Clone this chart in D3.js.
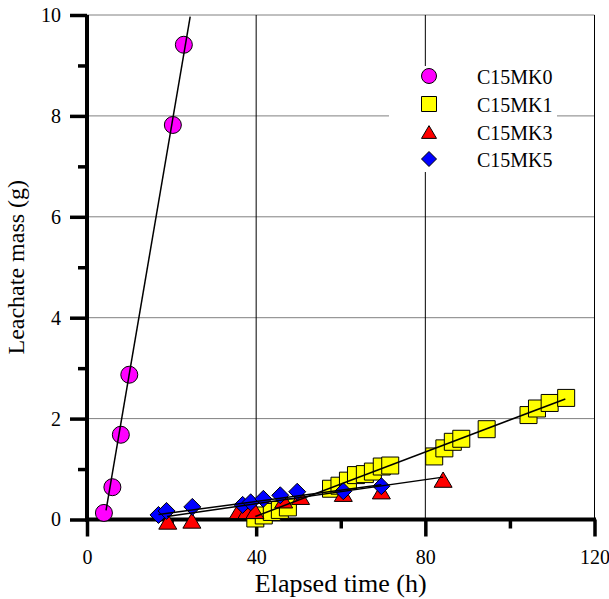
<!DOCTYPE html>
<html><head><meta charset="utf-8">
<script src="https://cdn.jsdelivr.net/npm/d3@7"></script>
<style>
body{margin:0;background:#fff;}
svg{display:block;}
</style>
</head><body>
<svg id="chart" width="609" height="599"></svg>
<script>
// ---- data ----
const xMajorTicks = [0, 40, 80, 120];
const xMinorTicks = [20, 60, 100];
const yMajorTicks = [0, 2, 4, 6, 8, 10];
const yMinorTicks = [1, 3, 5, 7, 9];
const seriesNames = ["C15MK0", "C15MK1", "C15MK3", "C15MK5"];

const mk0Time = [4.0, 6.0, 8.0, 10.0, 20.3, 22.9];
const mk0Mass = [0.13, 0.64, 1.68, 2.87, 7.82, 9.41];

const mk1Time = [39.8, 41.8, 43.7, 45.6, 47.5, 57.7, 59.7, 61.7, 63.6, 65.7, 67.6, 69.7, 71.7, 82.1, 84.5, 86.5, 88.5, 94.5, 104.4, 106.4, 109.4, 113.3];
const mk1Mass = [0.02, 0.08, 0.15, 0.19, 0.24, 0.61, 0.67, 0.77, 0.88, 0.90, 0.95, 1.05, 1.07, 1.25, 1.41, 1.54, 1.60, 1.79, 2.07, 2.20, 2.31, 2.41];

const mk3Time = [19.1, 24.8, 35.8, 37.8, 39.7, 46.5, 50.5, 60.6, 69.6, 84.2];
const mk3Mass = [-0.04, -0.02, 0.17, 0.17, 0.17, 0.38, 0.45, 0.51, 0.56, 0.79];

const mk5Time = [16.9, 18.8, 24.9, 36.8, 38.7, 41.7, 45.7, 49.7, 60.6, 69.6];
const mk5Mass = [0.09, 0.17, 0.25, 0.29, 0.34, 0.41, 0.48, 0.55, 0.56, 0.66];

// linear fit lines (endpoints)
const fit0 = [[4.5, 0.18], [24.4, 9.97]];
const fit1 = [[39.8, 0.06], [113.1, 2.39]];
const fit3 = [[18.9, 0.06], [84.2, 0.84]];
const fit5 = [[16.9, 0.10], [69.6, 0.69]];

// ---- drawing ----
const FONT = "'Liberation Serif', 'Times New Roman', Tinos, 'DejaVu Serif', serif";
const svg = d3.select("#chart");
const x = d3.scaleLinear().domain([0, 120]).range([87, 594.5]);
const y = d3.scaleLinear().domain([0, 10]).range([519.5, 15]);

const colors = ["#FF00FF", "#FFFF00", "#FF0000", "#0000FF"];
const shapes = ["circle", "square", "triangle", "diamond"];

function shapePath(shape, s) {
  const h = s / 2;
  if (shape === "circle") {
    return `M${h},0A${h},${h} 0 1,1 ${-h},0A${h},${h} 0 1,1 ${h},0Z`;
  } else if (shape === "square") {
    return `M${-h},${-h}H${h}V${h}H${-h}Z`;
  } else if (shape === "triangle") {
    const th = s * 0.85;
    return `M0,${-th / 2}L${h},${th / 2}L${-h},${th / 2}Z`;
  } else {
    return `M0,${-h}L${h},0L0,${h}L${-h},0Z`;
  }
}
const plotSize = [17, 17, 18, 17];
const legendSize = [15, 15, 15, 15];

// gridlines
svg.append("g").selectAll("line").data([2, 4, 6, 8, 10]).join("line")
  .attr("x1", x(0)).attr("x2", x(120))
  .attr("y1", d => y(d)).attr("y2", d => y(d))
  .attr("stroke", "#808080").attr("stroke-width", 1);
svg.append("g").selectAll("line").data([40, 80, 120]).join("line")
  .attr("x1", d => x(d)).attr("x2", d => x(d))
  .attr("y1", y(10)).attr("y2", y(0))
  .attr("stroke", "#000").attr("stroke-width", 1);

// legend background
svg.append("rect").attr("x", 389).attr("y", 66).attr("width", 168).attr("height", 106).attr("fill", "#fff");

// axes
function styleAxis(g) {
  g.attr("font-family", null).attr("font-size", null);
  g.select(".domain").remove();
  g.selectAll(".tick line").attr("stroke", "#000").attr("stroke-width", 3.5);
  g.selectAll(".tick text").style("font-family", FONT).style("font-size", "20px").attr("fill", "#000");
}
svg.append("g").attr("transform", `translate(${x(0)},0)`)
  .call(d3.axisLeft(y).tickValues(yMajorTicks).tickSize(17).tickPadding(9).tickFormat(d3.format("d")))
  .call(styleAxis);
svg.append("g").attr("transform", `translate(${x(0)},0)`)
  .call(d3.axisLeft(y).tickValues(yMinorTicks).tickSize(9).tickFormat(""))
  .call(styleAxis);
svg.append("g").attr("transform", `translate(0,${y(0)})`)
  .call(d3.axisBottom(x).tickValues(xMajorTicks).tickSize(17).tickPadding(13).tickFormat(d3.format("d")))
  .call(styleAxis);
svg.append("g").attr("transform", `translate(0,${y(0)})`)
  .call(d3.axisBottom(x).tickValues(xMinorTicks).tickSize(9).tickFormat(""))
  .call(styleAxis);
svg.append("line").attr("x1", x(0)).attr("x2", x(0)).attr("y1", y(10)).attr("y2", y(0) + 2)
  .attr("stroke", "#000").attr("stroke-width", 4);
svg.append("line").attr("x1", x(0) - 2).attr("x2", x(120) + 1.5).attr("y1", y(0)).attr("y2", y(0))
  .attr("stroke", "#000").attr("stroke-width", 4);

// axis titles
svg.append("text").attr("x", (x(0) + x(120)) / 2).attr("y", 592)
  .attr("text-anchor", "middle").style("font-family", FONT).style("font-size", "26px").text("Elapsed time (h)");
svg.append("text").attr("transform", `translate(24,${(y(0) + y(10)) / 2}) rotate(-90)`)
  .attr("text-anchor", "middle").style("font-family", FONT).style("font-size", "24px").text("Leachate mass (g)");

// markers
const series = [
  {t: mk0Time, m: mk0Mass},
  {t: mk1Time, m: mk1Mass},
  {t: mk3Time, m: mk3Mass},
  {t: mk5Time, m: mk5Mass}
];
series.forEach((s, i) => {
  const pts = s.t.map((t, j) => [t, s.m[j]]);
  svg.append("g").selectAll("path").data(pts).join("path")
    .attr("transform", d => `translate(${x(d[0])},${y(d[1])})`)
    .attr("d", shapePath(shapes[i], plotSize[i]))
    .attr("fill", colors[i]).attr("stroke", "#000").attr("stroke-width", 1);
});

// fit lines
const line = d3.line().x(d => x(d[0])).y(d => y(d[1]));
[fit0, fit1, fit3, fit5].forEach(f => {
  svg.append("path").attr("d", line(f)).attr("fill", "none")
    .attr("stroke", "#000").attr("stroke-width", 1.5);
});

// legend
const legendRows = [76, 104, 132, 159];
seriesNames.forEach((name, i) => {
  svg.append("path").attr("transform", `translate(429,${legendRows[i]})`)
    .attr("d", shapePath(shapes[i], legendSize[i]))
    .attr("fill", colors[i]).attr("stroke", "#000").attr("stroke-width", 1);
  svg.append("text").attr("x", 477).attr("y", legendRows[i] + 1).attr("dy", "0.35em")
    .style("font-family", FONT).style("font-size", "20px").text(name);
});
</script>
</body></html>
